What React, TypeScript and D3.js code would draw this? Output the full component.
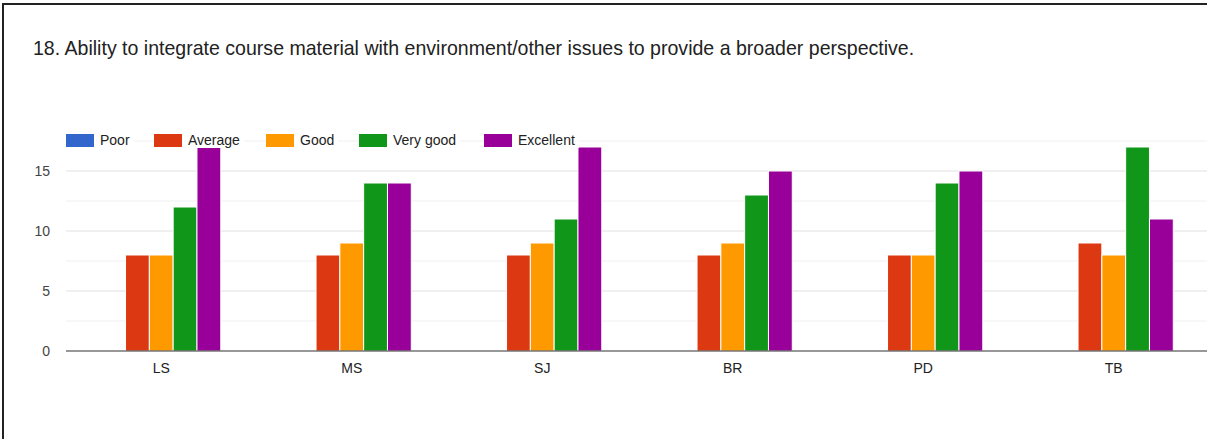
import React, { useEffect, useRef } from "react";
import * as d3 from "d3";

const categories = ["LS", "MS", "SJ", "BR", "PD", "TB"];
const seriesNames = ["Poor", "Average", "Good", "Very good", "Excellent"];
const poor = [0, 0, 0, 0, 0, 0];
const average = [8, 8, 8, 8, 8, 9];
const good = [8, 9, 9, 9, 8, 8];
const veryGood = [12, 14, 11, 13, 14, 17];
const excellent = [17, 14, 17, 15, 15, 11];
const yTicks = [0, 5, 10, 15];
const colors = ["#3366cc", "#dc3912", "#ff9900", "#109618", "#990099"];

const title =
  "18. Ability to integrate course material with environment/other issues to provide a broader perspective.";

const App: React.FC = () => {
  const svgRef = useRef<SVGSVGElement>(null);

  useEffect(() => {
    const svg = d3.select(svgRef.current);
    svg.selectAll("*").remove();
    const width = 1207;
    const height = 439;
    const font = "'Liberation Sans', Arial, sans-serif";

    svg.append("rect").attr("width", width).attr("height", height).attr("fill", "#fff");

    // frame (only top and left edges are visible in the crop)
    svg.append("line").attr("x1", 2).attr("x2", width).attr("y1", 4).attr("y2", 4)
      .attr("stroke", "#222").attr("stroke-width", 2);
    svg.append("line").attr("x1", 3).attr("x2", 3).attr("y1", 4).attr("y2", height)
      .attr("stroke", "#222").attr("stroke-width", 2);

    const tt = svg.append("text")
      .text(title)
      .attr("x", 33)
      .attr("y", 55)
      .attr("font-family", font)
      .attr("font-size", 18)
      .attr("fill", "#222");
    // fit the title to the width seen in the reference (~882px)
    const tw0 = (tt.node() as SVGTextElement).getComputedTextLength();
    if (tw0 > 0) tt.attr("font-size", (18 * 882) / tw0);

    const series = [poor, average, good, veryGood, excellent];

    const x0 = d3.scaleBand().domain(categories).range([66, 1209]);
    const groupW = x0.bandwidth() * 0.625;
    const x1 = d3.scaleBand().domain(seriesNames).range([0, groupW]);
    const y = d3.scaleLinear().domain([0, 17.5]).range([351, 141]);

    // gridlines: major at tick labels, minor in between
    d3.range(0, 17.6, 2.5).forEach((v) => {
      if (v === 0) return;
      const major = yTicks.includes(v);
      svg.append("line")
        .attr("x1", 66).attr("x2", width)
        .attr("y1", y(v)).attr("y2", y(v))
        .attr("stroke", major ? "#e0e0e0" : "#f0f0f0")
        .attr("stroke-width", 1);
    });

    yTicks.forEach((v) => {
      svg.append("text")
        .text(v)
        .attr("x", 50)
        .attr("y", y(v) + 5)
        .attr("text-anchor", "end")
        .attr("font-family", font)
        .attr("font-size", 14)
        .attr("fill", "#444");
    });

    categories.forEach((c, i) => {
      const gx = (x0(c) ?? 0) + (x0.bandwidth() - groupW) / 2;
      series.forEach((s, j) => {
        const v = s[i];
        if (!v) return;
        svg.append("rect")
          .attr("x", gx + (x1(seriesNames[j]) ?? 0))
          .attr("y", y(v))
          .attr("width", x1.bandwidth())
          .attr("height", y(0) - y(v))
          .attr("fill", colors[j])
          .attr("stroke", "#fff")
          .attr("stroke-width", 1);
      });
      svg.append("text")
        .text(c)
        .attr("x", (x0(c) ?? 0) + x0.bandwidth() / 2)
        .attr("y", 373)
        .attr("text-anchor", "middle")
        .attr("font-family", font)
        .attr("font-size", 14)
        .attr("fill", "#222");
    });

    // baseline
    svg.append("line")
      .attr("x1", 66).attr("x2", width)
      .attr("y1", y(0)).attr("y2", y(0))
      .attr("stroke", "#333").attr("stroke-width", 1.2);

    // legend
    const legendX = [66, 154, 266, 359, 484];
    seriesNames.forEach((n, j) => {
      const g = svg.append("g").attr("transform", `translate(${legendX[j]},133)`);
      const t = g.append("text")
        .text(n)
        .attr("x", 34)
        .attr("y", 12)
        .attr("font-family", font)
        .attr("font-size", 14)
        .attr("fill", "#222");
      const tw = (t.node() as SVGTextElement).getComputedTextLength();
      g.insert("rect", "text")
        .attr("x", 0).attr("y", 0)
        .attr("width", 34 + tw + 4).attr("height", 15)
        .attr("fill", "#fff");
      g.append("rect")
        .attr("x", 0).attr("y", 1)
        .attr("width", 28).attr("height", 13)
        .attr("fill", colors[j]);
    });
  });

  return (
    <svg
      ref={svgRef}
      width={1207}
      height={439}
      style={{ position: "absolute", left: 0, top: 0 }}
    ></svg>
  );
};

export default App;
